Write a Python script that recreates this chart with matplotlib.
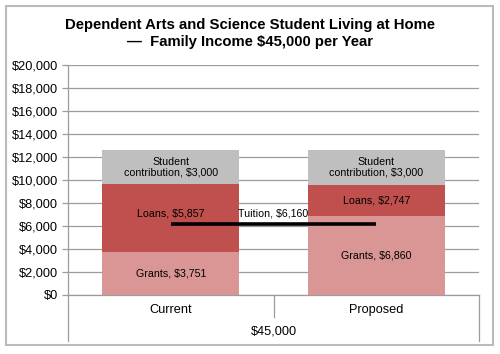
import matplotlib
matplotlib.use("Agg")
import matplotlib.pyplot as plt
import matplotlib.transforms as mtrans
from matplotlib.patches import Rectangle
from matplotlib.lines import Line2D
import numpy as np

plt.rcParams['font.family'] = ['Liberation Sans', 'DejaVu Sans']

# data
scenarios = ['Current', 'Proposed']
group_label = '$45,000'
grants = [3751, 6860]
loans = [5857, 2747]
student = [3000, 3000]
tuition = 6160
yticks = np.arange(0, 20001, 2000)

c_grants = '#D99694'
c_loans = '#C0504D'
c_student = '#BFBFBF'
c_grid = '#9C9C9C'

fig = plt.figure(figsize=(5.0, 3.54), dpi=100)
ax = fig.add_axes([0.136, 0.1667, 0.822, 0.6497])

x = np.arange(len(scenarios))
w = 0.667
g = np.array(grants)
l = np.array(loans)
s = np.array(student)
ax.bar(x, g, w, color=c_grants, zorder=2)
ax.bar(x, l, w, bottom=g, color=c_loans, zorder=2)
ax.bar(x, s, w, bottom=g + l, color=c_student, zorder=2)

fs = 7.7
for i in range(len(x)):
    ax.text(x[i], g[i] / 2, 'Grants, ${:,}'.format(g[i]), ha='center', va='center', fontsize=fs, zorder=4)
    ly = g[i] + l[i] / 2
    if ly - tuition < 800:
        ly = tuition + 900  # keep label clear of tuition line
    ax.text(x[i], ly, 'Loans, ${:,}'.format(l[i]), ha='center', va='center', fontsize=fs, zorder=4)
    ax.text(x[i], g[i] + l[i] + s[i] / 2, 'Student\ncontribution, ${:,}'.format(s[i]),
            ha='center', va='center', fontsize=fs, linespacing=1.1, zorder=4)

# tuition line
ax.plot(x, [tuition] * len(x), color='black', lw=2.6, zorder=5, solid_capstyle='butt')
ax.text(0.5, tuition + 950, 'Tuition, ${:,}'.format(tuition), ha='center', va='center', fontsize=fs, zorder=4)

ax.set_xlim(-0.5, 1.5)
ax.set_ylim(0, 20000)
ax.set_yticks(yticks)
ax.set_yticklabels(['${:,}'.format(v) for v in yticks], fontsize=9.2)
ax.yaxis.grid(True, color=c_grid, lw=0.9, zorder=0)
ax.tick_params(axis='y', length=4, width=0.9, color=c_grid, pad=3)
ax.set_xticks([])
for sp in ['top', 'right']:
    ax.spines[sp].set_visible(False)
for sp in ['left', 'bottom']:
    ax.spines[sp].set_color(c_grid)
    ax.spines[sp].set_linewidth(0.9)

# two-level category axis
tr = mtrans.blended_transform_factory(ax.transData, ax.transAxes)
for xv, depth in [(-0.5, -0.2), (0.5, -0.096), (1.5, -0.2)]:
    ax.add_line(Line2D([xv, xv], [0, depth], transform=tr, color=c_grid, lw=0.9, clip_on=False))
for i, name in enumerate(scenarios):
    ax.text(x[i], -0.065, name, transform=tr, ha='center', va='center', fontsize=9.2)
ax.text(0.5, -0.157, group_label, transform=tr, ha='center', va='center', fontsize=9.2)

fig.text(0.5, 0.906, 'Dependent Arts and Science Student Living at Home\n\u2014  Family Income $45,000 per Year',
         ha='center', va='center', fontsize=10.7, fontweight='bold', linespacing=1.25)

fig.patches.append(Rectangle((0.011, 0.025), 0.975, 0.958, transform=fig.transFigure,
                             fill=False, edgecolor='#BBBBBB', lw=1.5))

fig.savefig('out.png', dpi=100)
